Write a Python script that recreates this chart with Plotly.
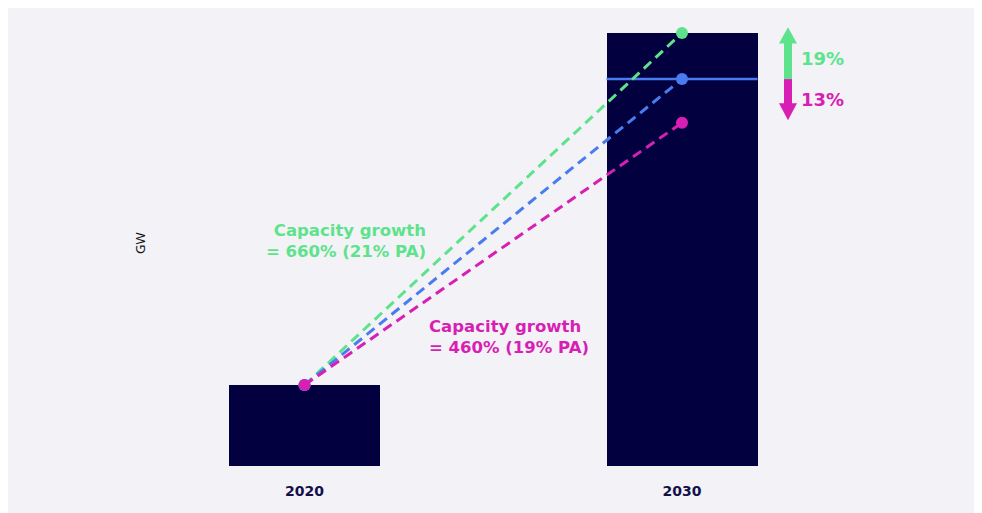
import plotly.graph_objects as go

# ---- data ----
years = [2020, 2030]
year_labels = ["2020", "2030"]
capacity_gw = [100, 535]          # bar heights (relative GW)
start_value = 100                 # 2020 capacity (start of growth lines)
high_2030 = 535                   # high scenario
central_2030 = 478                # central scenario
low_2030 = 424                    # low scenario
upside_label = "19%"
downside_label = "13%"
high_text = "Capacity growth<br>= 660% (21% PA)"
low_text = "Capacity growth<br>= 460% (19% PA)"

NAVY = "#03003f"
GREEN = "#5ee38c"
BLUE = "#4a7cf0"
MAGENTA = "#d81fb4"
BG = "#f2f2f7"
FONT = "DejaVu Sans"

fig = go.Figure()

fig.add_trace(go.Bar(x=years, y=capacity_gw, width=4, marker=dict(color=NAVY, line=dict(width=0)),
                     hoverinfo="skip", showlegend=False))

# central horizontal line across the 2030 bar
fig.add_trace(go.Scatter(x=[years[1] - 2, years[1] + 2], y=[central_2030, central_2030], mode="lines",
                         line=dict(color=BLUE, width=2.5), hoverinfo="skip", showlegend=False))

for val, col in [(high_2030, GREEN), (central_2030, BLUE), (low_2030, MAGENTA)]:
    fig.add_trace(go.Scatter(x=years, y=[start_value, val], mode="lines+markers",
                             line=dict(color=col, width=3, dash="10px,6px"),
                             marker=dict(color=col, size=12),
                             hoverinfo="skip", showlegend=False))

# arrows (shapes)
PW = 710
ax = 0.8845
hs = 4 / PW
hh = 9 / PW
up_tip, up_base = 542, 522
dn_tip, dn_base = 427, 448
fig.add_shape(type="rect", xref="paper", yref="y", x0=ax - hs, x1=ax + hs, y0=central_2030, y1=up_base + 1,
              fillcolor=GREEN, line=dict(width=0))
fig.add_shape(type="path", xref="paper", yref="y",
              path=f"M {ax-hh} {up_base} L {ax+hh} {up_base} L {ax} {up_tip} Z",
              fillcolor=GREEN, line=dict(width=0))
fig.add_shape(type="rect", xref="paper", yref="y", x0=ax - hs, x1=ax + hs, y0=dn_base - 1, y1=central_2030,
              fillcolor=MAGENTA, line=dict(width=0))
fig.add_shape(type="path", xref="paper", yref="y",
              path=f"M {ax-hh} {dn_base} L {ax+hh} {dn_base} L {ax} {dn_tip} Z",
              fillcolor=MAGENTA, line=dict(width=0))

fig.add_annotation(x=2023.27, y=278, xref="x", yref="y", text=high_text, showarrow=False,
                   xanchor="right", align="right", font=dict(family=FONT, size=16.5, color=GREEN, weight=700))
fig.add_annotation(x=2023.25, y=159, xref="x", yref="y", text=low_text, showarrow=False,
                   xanchor="left", align="left", font=dict(family=FONT, size=16.5, color=MAGENTA, weight=700))
fig.add_annotation(x=(791 - 152) / PW, y=504, xref="paper", yref="y", text=upside_label, showarrow=False,
                   xanchor="left", font=dict(family=FONT, size=18, color=GREEN, weight=700))
fig.add_annotation(x=(791 - 152) / PW, y=453, xref="paper", yref="y", text=downside_label, showarrow=False,
                   xanchor="left", font=dict(family=FONT, size=18, color=MAGENTA, weight=700))
fig.add_annotation(x=(132 - 152) / PW, y=0.5, xref="paper", yref="paper", text="GW", showarrow=False,
                   xanchor="center", textangle=-90, font=dict(family="Noto Sans", size=13, color="#111111"))

fig.update_layout(
    width=982, height=505,
    margin=dict(l=152, r=120, t=12, b=47),
    paper_bgcolor=BG, plot_bgcolor=BG,
    xaxis=dict(range=[2020 - 3.828, 2030 + 4.98], tickvals=years, ticktext=year_labels,
               showgrid=False, zeroline=False, showline=False, ticks="",
               tickfont=dict(family=FONT, size=14, color="#14104a", weight=700), ticklabelstandoff=15),
    yaxis=dict(range=[0, 551], showgrid=False, zeroline=False, showline=False, showticklabels=False, ticks=""),
    bargap=0,
)

fig.write_html("out.html")
